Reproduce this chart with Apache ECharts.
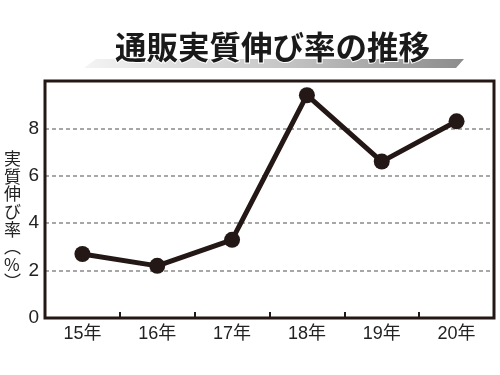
<!DOCTYPE html>
<html><head><meta charset="utf-8">
<script src="https://cdn.jsdelivr.net/npm/echarts@6/dist/echarts.min.js"></script>
<style>html,body{margin:0;padding:0;background:#fff}#c{width:500px;height:375px}</style>
</head><body><div id="c"></div>
<script>
const titleText = '通販実質伸び率の推移';
const yAxisName = ['実','質','伸','び','率','︵','%','︶'];
const categories = ['15年','16年','17年','18年','19年','20年'];
const values = [2.7, 2.2, 3.3, 9.4, 6.6, 8.3];
const yTicks = [0, 2, 4, 6, 8];

const ink = '#231815';
const chart = echarts.init(document.getElementById('c'));
chart.setOption({
  animation: false,
  backgroundColor: '#fff',
  textStyle: { fontFamily: 'Noto Sans CJK JP' },
  grid: { left: 45, right: 6, top: 81, bottom: 57, show: true, borderWidth: 3, borderColor: ink, z: 3 },
  graphic: [
    { type: 'polygon', z: 1, shape: { points: [[96, 59], [464, 59], [456, 68], [84, 68]] },
      style: { fill: { type: 'linear', x: 0, y: 0, x2: 1, y2: 0,
        colorStops: [{ offset: 0, color: '#f4f4f4' }, { offset: 0.5, color: '#c8c8c8' }, { offset: 1, color: '#8c8c8c' }] } } },
    { type: 'text', z: 2, left: 114, top: 30,
      style: { text: titleText, font: 'bold 31.5px "Noto Sans CJK JP"', fill: '#1a1a1a', stroke: '#fff', lineWidth: 2 } },
    { type: 'text', z: 2, left: 4, top: 150,
      style: { text: yAxisName.join('\n'), font: '17px "Noto Sans CJK JP"', lineHeight: 17.6, fill: '#222', align: 'left' } }
  ],
  xAxis: {
    type: 'category', data: categories, boundaryGap: true,
    axisLine: { show: false },
    axisTick: { show: true, inside: true, length: 6, lineStyle: { color: ink, width: 2 } },
    axisLabel: { margin: 7, fontSize: 18, color: '#222', fontFamily: '"Liberation Sans", "Noto Sans CJK JP"' }
  },
  yAxis: {
    type: 'value', min: 0, max: 10, interval: 2,
    axisLine: { show: false }, axisTick: { show: false },
    axisLabel: { margin: 6, fontSize: 19, color: '#222', fontFamily: 'Liberation Sans',
      formatter: v => yTicks.includes(v) ? String(v) : '' },
    splitLine: { show: true, lineStyle: { color: '#8a8a8a', type: [4, 3], width: 1.5 } }
  },
  series: [{
    type: 'line', data: values, symbol: 'circle', symbolSize: 16, z: 5,
    lineStyle: { color: ink, width: 5 }, itemStyle: { color: ink }
  }]
});
</script></body></html>
